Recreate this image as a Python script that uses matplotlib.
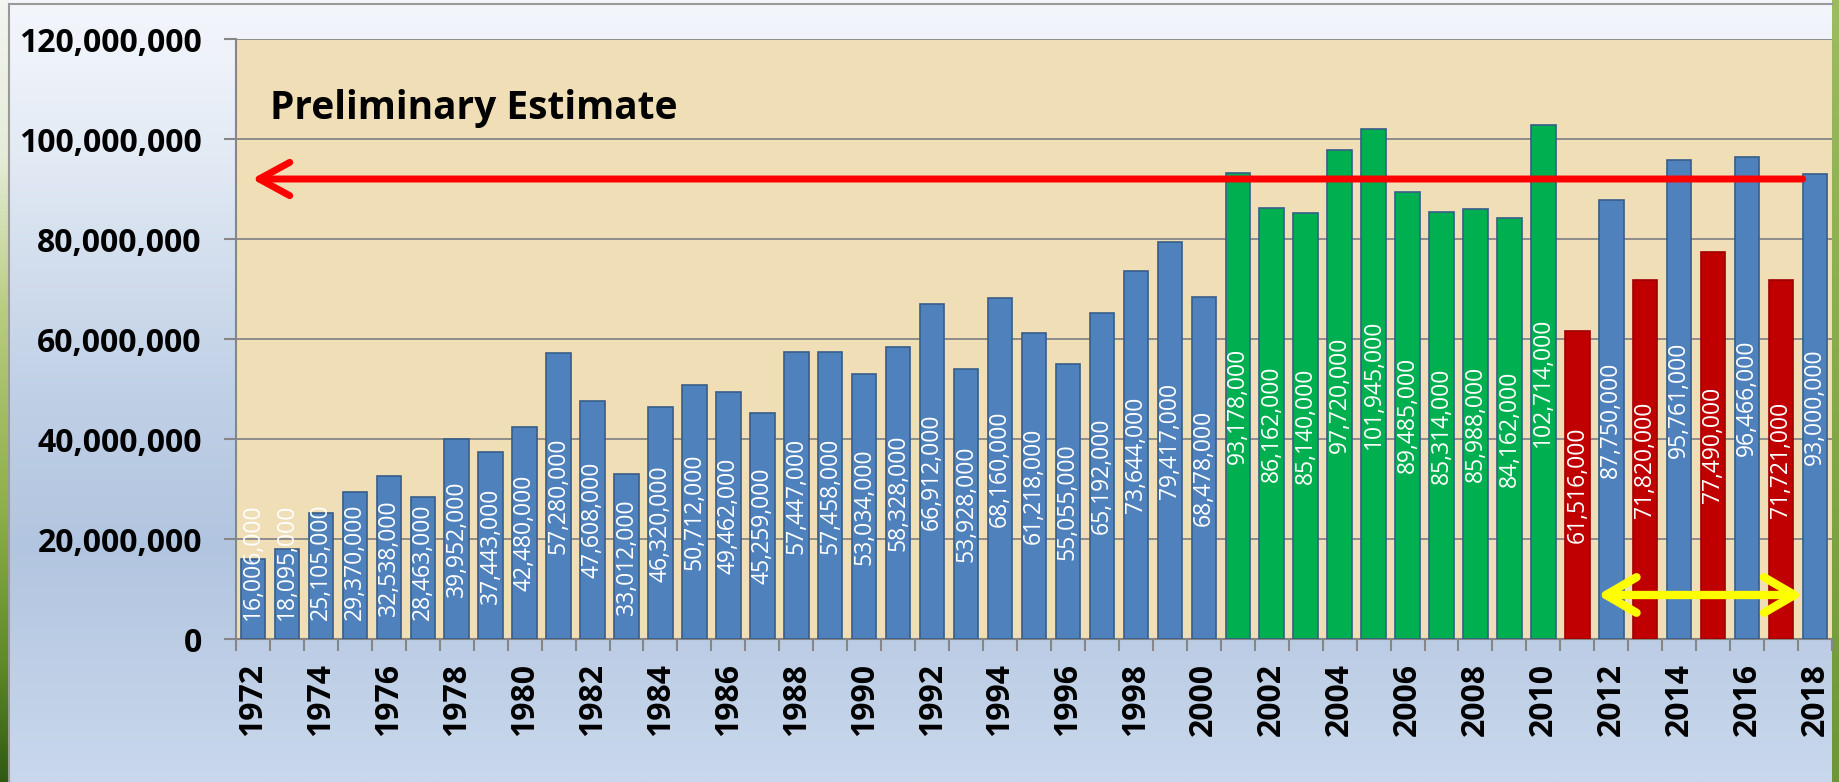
import matplotlib.pyplot as plt
import numpy as np
from matplotlib.colors import to_rgb
from matplotlib.ticker import FuncFormatter

# Data
years = list(range(1972, 2019))
production = [16006000, 18095000, 25105000, 29370000, 32538000, 28463000, 39952000,
              37443000, 42480000, 57280000, 47608000, 33012000, 46320000, 50712000,
              49462000, 45259000, 57447000, 57458000, 53034000, 58328000, 66912000,
              53928000, 68160000, 61218000, 55055000, 65192000, 73644000, 79417000,
              68478000, 93178000, 86162000, 85140000, 97720000, 101945000, 89485000,
              85314000, 85988000, 84162000, 102714000, 61516000, 87750000, 71820000,
              95761000, 77490000, 96466000, 71721000, 93000000]
green_years = list(range(2001, 2011))
red_years = [2011, 2013, 2015, 2017]

# annotation arrows (x from, x to, y level)
red_arrow = (2017.64, 1971.97, 92000000)
yellow_arrow = (2011.6, 2017.64, 8800000)
note_text = 'Preliminary Estimate'

# Colours
BLUE, BLUE_EDGE = '#4F81BD', '#385D8A'
GREEN = '#00B050'
RED, RED_EDGE = '#C00000', '#A00000'
GRID = '#868686'
PARCHMENT = '#F0DFB6'


def vgradient(stops, n=400):
    pos = np.linspace(0, 1, n)
    g = np.zeros((n, 1, 3))
    for c in range(3):
        g[:, 0, c] = np.interp(pos, [s[0] for s in stops], [to_rgb(s[1])[c] for s in stops])
    return g


plt.rcParams['font.family'] = ['Open Sans', 'DejaVu Sans']

fig = plt.figure(figsize=(18.39, 7.82), dpi=100)

# outer light-blue gradient background
bg = fig.add_axes([0, 0, 1, 1], zorder=-10)
bg.imshow(vgradient([(0.0, '#F3F6FB'), (0.08, '#EEF2F9'), (0.2, '#E2EAF4'), (0.5, '#C0D0E6'),
                     (0.7, '#B2C5E0'), (1.0, '#C9D8EC')]),
          aspect='auto', extent=[0, 1, 0, 1], origin='upper')
# green photo edges
bg.imshow(vgradient([(0.0, '#F2F5F0'), (0.2, '#E6ECD8'), (0.4, '#B8CC80'), (0.65, '#8DB04A'),
                     (0.85, '#5E8A28'), (1.0, '#2F5A12')]),
          aspect='auto', extent=[0, 8 / 1839, 0, 1], origin='upper')
bg.imshow(vgradient([(0.0, '#9CBC60'), (0.5, '#86AA48'), (1.0, '#6E9638')]),
          aspect='auto', extent=[1832 / 1839, 1, 0, 1], origin='upper')
bg.plot([8.5 / 1839, 8.5 / 1839], [0, 0.995], color='#999999', lw=1.5)
bg.plot([8.5 / 1839, 1832 / 1839], [0.995, 0.995], color='#999999', lw=1.5)
bg.set_xlim(0, 1)
bg.set_ylim(0, 1)
bg.axis('off')

ax = fig.add_axes([236 / 1839, 1 - 639 / 782, (1832 - 236) / 1839, 600 / 782])
ax.set_facecolor(PARCHMENT)

colors, edges = [], []
for y in years:
    if y in green_years:
        colors.append(GREEN); edges.append(BLUE_EDGE)
    elif y in red_years:
        colors.append(RED); edges.append(RED_EDGE)
    else:
        colors.append(BLUE); edges.append(BLUE_EDGE)

ax.bar(years, production, width=0.72, color=colors, edgecolor=edges, linewidth=1.2, zorder=3)

for y, v in zip(years, production):
    ax.text(y, max(v / 2, 15.5e6), f'{v:,}', rotation=90, ha='center', va='center',
            color='white', fontsize=16.5, zorder=4)

ax.set_xlim(1971.5, 2018.5)
ax.set_ylim(0, 120e6)
ax.set_yticks(np.arange(0, 120e6 + 1, 20e6))
ax.yaxis.set_major_formatter(FuncFormatter(lambda v, p: f'{int(v):,}'))
ax.set_xticks(years[::2])
ax.set_xticklabels([str(y) for y in years[::2]], rotation=90)
ax.set_xticks(np.arange(1971.5, 2019, 1), minor=True)

ax.tick_params(axis='x', which='major', length=0, pad=17, labelsize=23)
ax.tick_params(axis='x', which='minor', length=8.6, width=1.5, color=GRID)
ax.tick_params(axis='y', length=8.6, width=1.5, color=GRID, pad=16, labelsize=23)
for lab in ax.get_xticklabels() + ax.get_yticklabels():
    lab.set_fontweight('bold')

ax.grid(axis='y', color=GRID, linewidth=1.3, zorder=1)
ax.set_axisbelow(True)
for s in ['top', 'right']:
    ax.spines[s].set_visible(False)
for s in ['left', 'bottom']:
    ax.spines[s].set_color(GRID)
    ax.spines[s].set_linewidth(1.5)

ax.text(1972.5, 106e6, note_text, fontsize=28, fontweight='bold', color='black',
        ha='left', va='center', zorder=5)

ax.annotate('', xy=(red_arrow[1], red_arrow[2]), xytext=(red_arrow[0], red_arrow[2]),
            arrowprops=dict(arrowstyle='->,head_length=0.55,head_width=0.3',
                            color='#FF0000', lw=5, mutation_scale=40,
                            capstyle='round', joinstyle='round',
                            shrinkA=0, shrinkB=0), zorder=6)
ax.annotate('', xy=(yellow_arrow[1], yellow_arrow[2]), xytext=(yellow_arrow[0], yellow_arrow[2]),
            arrowprops=dict(arrowstyle='<->,head_length=0.55,head_width=0.32',
                            color='#FFFF00', lw=6, mutation_scale=40,
                            capstyle='round', joinstyle='round',
                            shrinkA=0, shrinkB=0), zorder=6)

fig.savefig('out.png', dpi=100)
